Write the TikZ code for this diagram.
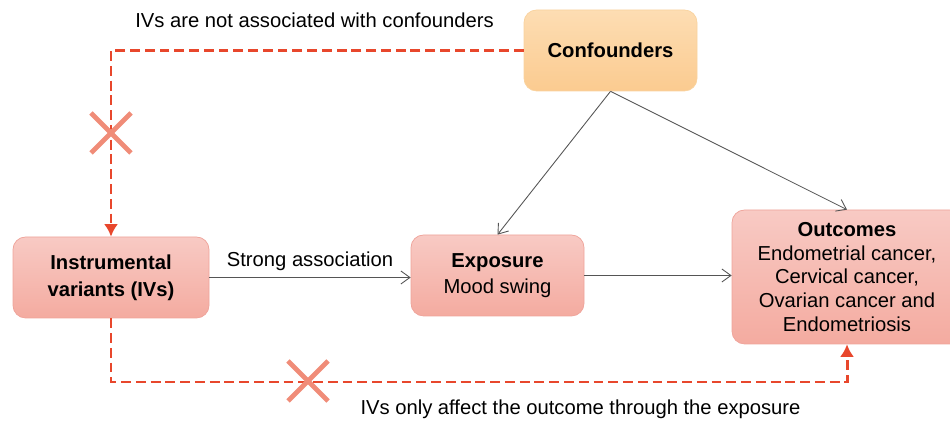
\documentclass[tikz,border=0pt]{standalone}
\usepackage{fontspec}
\setmainfont{Liberation Sans}
\usetikzlibrary{arrows.meta}
\definecolor{pinkTop}{HTML}{F8CAC4}
\definecolor{pinkBot}{HTML}{F4ABA0}
\definecolor{pinkEdge}{HTML}{EFA39A}
\definecolor{orangeTop}{HTML}{FDDDB3}
\definecolor{orangeBot}{HTML}{FBCB90}
\definecolor{orangeEdge}{HTML}{F9D39F}
\definecolor{IVRed}{HTML}{E8472C}
\definecolor{crossRed}{HTML}{F08C78}
\definecolor{lineGray}{HTML}{555555}

\tikzset{
    box/.style={rectangle, rounded corners=0.25cm, draw=pinkEdge, thin,
        top color=pinkTop, bottom color=pinkBot, align=center,
        inner sep=2pt, font=\fontsize{11.5}{13.6}\selectfont},
    confbox/.style={box, draw=orangeEdge, top color=orangeTop, bottom color=orangeBot},
    link/.style={draw=lineGray, line width=0.5pt, -{Straight Barb[length=1.8mm,width=2.6mm]}},
    redlink/.style={draw=IVRed, line width=1.7pt, dash pattern=on 5.6pt off 2.8pt,
        -{Latex[length=2.5mm,width=2.8mm]}},
    xmark/.style={draw=crossRed, line width=2.8pt},
    note/.style={font=\fontsize{11.5}{13.6}\selectfont, anchor=base}
}

\begin{document}
\begin{tikzpicture}

\clip (0,0) rectangle (19,8.44);

% boxes
\node[confbox, minimum width=3.46cm, minimum height=1.62cm] (conf) at (12.21,7.43)
    {\textbf{Confounders}};
\node[box, minimum width=3.92cm, minimum height=1.62cm,
    font=\fontsize{11.5}{15.2}\selectfont\bfseries] (iv) at (2.22,2.89)
    {Instrumental\\variants (IVs)};
\node[box, minimum width=3.46cm, minimum height=1.62cm,
    font=\fontsize{11.5}{14.4}\selectfont] (expo) at (9.95,2.93)
    {\textbf{Exposure}\\Mood swing};
\node[box, minimum width=4.6cm, minimum height=2.68cm] (out) at (16.94,2.90)
    {\textbf{Outcomes}\\Endometrial cancer,\\Cervical cancer,\\Ovarian cancer and\\Endometriosis};

% causal arrows
\draw[link] (iv.east) -- (iv.east -| expo.west)
    node[note, midway, yshift=0.22cm] {Strong association};
\draw[link] (expo.east) -- (expo.east -| out.west);
\draw[link] (conf.south) -- (expo.north);
\draw[link] (conf.south) -- (out.north);

% assumptions
\coordinate (low) at (16.94,0.8);
\draw[redlink] (conf.west) -| (iv.north);
\draw[redlink] (iv.south) |- (low) -- (out.south);

\node[note] (noteTop) at (6.29,7.88) {IVs are not associated with confounders};
\node[note] (noteBot) at (11.61,0.14) {IVs only affect the outcome through the exposure};

% crosses
\draw[xmark] (1.82,5.38) -- (2.62,6.18);
\draw[xmark] (1.82,6.18) -- (2.62,5.38);
\draw[xmark] (5.76,0.42) -- (6.56,1.22);
\draw[xmark] (5.76,1.22) -- (6.56,0.42);

\end{tikzpicture}
\end{document}
